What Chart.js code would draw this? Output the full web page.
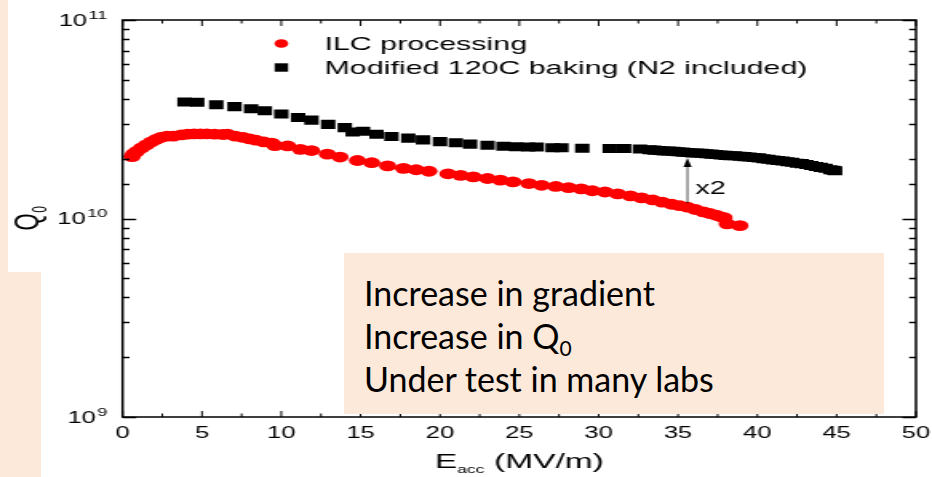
<!DOCTYPE html>
<html lang="en">
<head>
<meta charset="UTF-8" />
<title>Q0 vs Eacc</title>
<script src="https://cdn.jsdelivr.net/npm/chart.js"></script>
<style>
  body { margin: 0; width: 932px; height: 477px; overflow: hidden; background: #fff; position: relative; }
  #wrap { position: absolute; left: 0; top: 0; width: 583px; height: 477px; transform: scaleX(1.5986); transform-origin: 0 0; }
  .peach { position: absolute; background: #fde9d9; }
  #note { position: absolute; left: 344px; top: 253px; width: 540px; height: 161px; background: #fde9d9;
          font-family: Lato, "Open Sans", sans-serif; font-size: 34px; color: #000; box-sizing: border-box;
          padding: 18px 0 0 20px; }
  #note div { line-height: 43px; height: 43px; white-space: nowrap; }
  #note .sub { font-size: 21px; position: relative; top: 7px; }
</style>
</head>
<body>
<div id="wrap"><canvas id="qChart"></canvas></div>
<div class="peach" style="left:0;top:0;width:8px;height:477px"></div>
<div class="peach" style="left:0;top:272px;width:41px;height:205px"></div>
<div id="note">
  <div>Increase in gradient</div>
  <div>Increase in Q<span class="sub">0</span></div>
  <div>Under test in many labs</div>
</div>

<script>
// ILC processing (red circles): Eacc in MV/m, Q0 in units of 1e10
const ilcE = [0.6, 0.7, 0.9, 1.2, 1.5, 1.8, 2.1, 2.4, 2.8, 3.2, 3.7, 4.1, 4.5, 4.9, 5.3, 5.8, 6.3, 6.6,
  7.1, 7.6, 8.0, 8.4, 8.9, 9.4, 9.6, 10.4, 11.2, 11.9, 12.9, 13.7, 14.8, 15.7, 16.7, 17.7, 18.5, 19.3,
  20.5, 21.3, 22.1, 23.0, 23.8, 24.6, 25.6, 26.4, 27.3, 28.1, 28.9, 29.6, 30.4, 31.2, 32.0, 32.7, 33.4,
  34.0, 34.6, 35.1, 35.6, 36.1, 36.6, 37.0, 37.4, 37.7, 37.9, 38.1, 38.9];
const ilcQ = [2.05, 2.12, 2.18, 2.27, 2.35, 2.43, 2.50, 2.56, 2.60, 2.60, 2.64, 2.66, 2.67, 2.67, 2.67, 2.66, 2.65, 2.66,
  2.60, 2.56, 2.52, 2.48, 2.43, 2.40, 2.33, 2.32, 2.23, 2.20, 2.11, 2.04, 1.96, 1.91, 1.84, 1.79, 1.76, 1.73,
  1.68, 1.65, 1.62, 1.59, 1.56, 1.53, 1.50, 1.47, 1.45, 1.43, 1.41, 1.38, 1.36, 1.33, 1.30, 1.27, 1.24,
  1.21, 1.18, 1.16, 1.14, 1.11, 1.08, 1.06, 1.04, 1.02, 1.01, 0.94, 0.92];

// Modified 120C baking (black squares)
const bakeE = [3.9, 4.7, 5.9, 7.05, 8.1, 8.96, 10.0, 11.06, 11.9, 12.95, 14.0, 14.5, 15.15, 16.0, 16.94,
  18.0, 18.93, 20.0, 21.0, 21.9, 23.0, 24.0, 24.8, 25.55, 26.1, 27.1, 27.65, 28.97, 30.7, 31.6, 32.6,
  33.2, 33.5, 33.8, 34.1, 34.4, 34.7, 35.0, 35.3, 35.6, 35.9, 36.2, 36.5, 36.8, 37.1, 37.4, 37.7, 38.0,
  38.3, 38.6, 38.9, 39.2, 39.5, 39.8, 40.1, 40.4, 40.7, 41.0, 41.3, 41.6, 41.9, 42.2, 42.5, 42.8, 43.1,
  43.4, 43.7, 44.0, 44.3, 44.6, 44.8, 44.9];
const bakeQ = [3.86, 3.85, 3.74, 3.66, 3.57, 3.49, 3.36, 3.23, 3.13, 2.98, 2.87, 2.73, 2.75, 2.66, 2.59,
  2.54, 2.49, 2.44, 2.41, 2.37, 2.34, 2.31, 2.30, 2.29, 2.29, 2.27, 2.27, 2.26, 2.25, 2.25, 2.24,
  2.22, 2.21, 2.20, 2.19, 2.19, 2.18, 2.17, 2.16, 2.15, 2.14, 2.14, 2.13, 2.12, 2.11, 2.10, 2.09, 2.08,
  2.07, 2.07, 2.06, 2.05, 2.04, 2.03, 2.02, 2.00, 1.99, 1.97, 1.96, 1.95, 1.93, 1.92, 1.90, 1.89, 1.87,
  1.85, 1.83, 1.81, 1.79, 1.76, 1.75, 1.74];

const seriesLabels = ['ILC processing', 'Modified 120C baking (N2 included)'];
const yDecades = [1e9, 1e10, 1e11];
const yBase = '10';
const yExponents = ['9', '10', '11'];

// "x2" arrow between the curves
const arrowE = 35.6;
const arrowFrom = 1.19e10;
const arrowTo = 2.02e10;
const arrowText = 'x2';

const FONT = '"Liberation Sans", Arial, sans-serif';

// inward ticks, frame, y labels, legend, axis titles and the x2 arrow
const decorations = {
  id: 'decorations',
  afterDraw(chart) {
    const ctx = chart.ctx;
    const a = chart.chartArea;
    const xs = chart.scales.x, ys = chart.scales.y;
    ctx.save();
    ctx.strokeStyle = '#000';
    ctx.fillStyle = '#000';

    // y ticks (left and right)
    ctx.lineWidth = 1.5;
    ys.ticks.forEach(t => {
      const y = Math.round(ys.getPixelForValue(t.value)) + 0.5;
      const major = yDecades.some(d => Math.abs(d - t.value) < d * 1e-6);
      const len = major ? 8.5 : 4.3;
      ctx.beginPath();
      ctx.moveTo(a.left, y); ctx.lineTo(a.left + len, y);
      ctx.moveTo(a.right, y); ctx.lineTo(a.right - len, y);
      ctx.stroke();
    });

    // x ticks (bottom and top), minor ticks half way
    ctx.lineWidth = 1.0;
    const xt = xs.ticks.map(t => t.value);
    xt.forEach((v, i) => {
      const marks = [[v, 6]];
      if (i < xt.length - 1) marks.push([(v + xt[i + 1]) / 2, 3.5]);
      marks.forEach(([val, len]) => {
        const x = xs.getPixelForValue(val);
        ctx.beginPath();
        ctx.moveTo(x, a.bottom); ctx.lineTo(x, a.bottom - len);
        ctx.moveTo(x, a.top); ctx.lineTo(x, a.top + len);
        ctx.stroke();
      });
    });

    // frame
    ctx.lineWidth = 1.5;
    ctx.strokeRect(a.left, a.top, a.right - a.left, a.bottom - a.top);

    // y labels 10^n with raised exponent
    ctx.textAlign = 'right';
    ctx.textBaseline = 'alphabetic';
    yDecades.forEach((d, i) => {
      const y = ys.getPixelForValue(d);
      const xr = a.left - 9.5;
      ctx.font = '11.5px ' + FONT;
      const we = ctx.measureText(yExponents[i]).width;
      ctx.fillText(yExponents[i], xr, y - 1.5);
      ctx.font = '16px ' + FONT;
      ctx.fillText(yBase, xr - we - 0.8, y + 5.8);
    });

    // y axis title Q0 (rotated)
    ctx.save();
    ctx.translate(15.5, (a.top + a.bottom) / 2);
    ctx.rotate(-Math.PI / 2);
    ctx.textAlign = 'left';
    ctx.font = '22px ' + FONT;
    const wq = ctx.measureText('Q').width;
    ctx.font = '12px ' + FONT;
    const w0 = ctx.measureText('0').width;
    const qx = -(wq + w0) / 2;
    ctx.font = '22px ' + FONT;
    ctx.fillText('Q', qx, 8);
    ctx.font = '12px ' + FONT;
    ctx.fillText('0', qx + wq + 0.5, 13);
    ctx.restore();

    // legend
    const lx = 176, tx = 203;
    const ly = [43.5, 67.5];
    ctx.font = '19px ' + FONT;
    ctx.textBaseline = 'middle';
    ctx.textAlign = 'left';
    ctx.fillStyle = '#ff0000';
    ctx.beginPath(); ctx.arc(lx, ly[0], 4.3, 0, Math.PI * 2); ctx.fill();
    ctx.fillStyle = '#000';
    ctx.fillRect(lx - 4.2, ly[1] - 4.2, 8.4, 8.4);
    ctx.fillText(seriesLabels[0], tx, ly[0] + 1);
    ctx.fillText(seriesLabels[1], tx, ly[1] + 1);

    // x axis title: E_acc (MV/m)
    const big = '21px ' + FONT, small = '11px ' + FONT;
    ctx.font = big; const wE = ctx.measureText('E').width; const wR = ctx.measureText(' (MV/m)').width;
    ctx.font = small; const wS = ctx.measureText('acc').width;
    const x0 = (a.left + a.right) / 2 - (wE + wS + wR) / 2;
    const ty = 462;
    ctx.font = big; ctx.fillText('E', x0, ty);
    ctx.font = small; ctx.fillText('acc', x0 + wE, ty + 8);
    ctx.font = big; ctx.fillText(' (MV/m)', x0 + wE + wS, ty);

    // x2 arrow
    const ax = xs.getPixelForValue(arrowE);
    const y1 = ys.getPixelForValue(arrowFrom), y2 = ys.getPixelForValue(arrowTo);
    ctx.lineWidth = 0.7;
    ctx.beginPath(); ctx.moveTo(ax, y1); ctx.lineTo(ax, y2 + 8); ctx.stroke();
    ctx.beginPath(); ctx.moveTo(ax, y2); ctx.lineTo(ax - 2.6, y2 + 9); ctx.lineTo(ax + 2.6, y2 + 9); ctx.closePath(); ctx.fill();
    ctx.font = '18px ' + FONT;
    ctx.fillText(arrowText, ax + 5, (y1 + y2) / 2 + 8);
    ctx.restore();
  }
};

const ctx = document.getElementById('qChart').getContext('2d');
new Chart(ctx, {
  type: 'scatter',
  data: {
    datasets: [
      {
        label: seriesLabels[1],
        data: bakeE.map((e, i) => ({ x: e, y: bakeQ[i] * 1e10 })),
        pointStyle: 'rect',
        pointRadius: 6.4,
        pointBorderWidth: 0,
        backgroundColor: '#000',
        borderColor: '#000'
      },
      {
        label: seriesLabels[0],
        data: ilcE.map((e, i) => ({ x: e, y: ilcQ[i] * 1e10 })),
        pointStyle: 'circle',
        pointRadius: 5.4,
        pointBorderWidth: 0,
        backgroundColor: '#ff0000',
        borderColor: '#ff0000'
      }
    ]
  },
  options: {
    responsive: true,
    maintainAspectRatio: false,
    animation: false,
    layout: { padding: { top: 20, right: 10, left: 0, bottom: 0 } },
    plugins: { legend: { display: false }, tooltip: { enabled: false } },
    scales: {
      x: {
        type: 'linear', min: 0, max: 50,
        afterFit: s => { s.height = 60; s.paddingLeft = 0; s.paddingRight = 0; },
        ticks: { stepSize: 5, maxRotation: 0, padding: 7, color: '#000', font: { family: FONT, size: 16 } },
        grid: { display: false, drawTicks: false },
        border: { display: false }
      },
      y: {
        type: 'logarithmic', min: 1e9, max: 1e11,
        afterFit: s => { s.width = 76.7; s.paddingTop = 0; s.paddingBottom = 0; },
        ticks: { autoSkip: false, display: false },
        grid: { display: false, drawTicks: false },
        border: { display: false },
        title: { display: false }
      }
    }
  },
  plugins: [decorations]
});
</script>
</body>
</html>
